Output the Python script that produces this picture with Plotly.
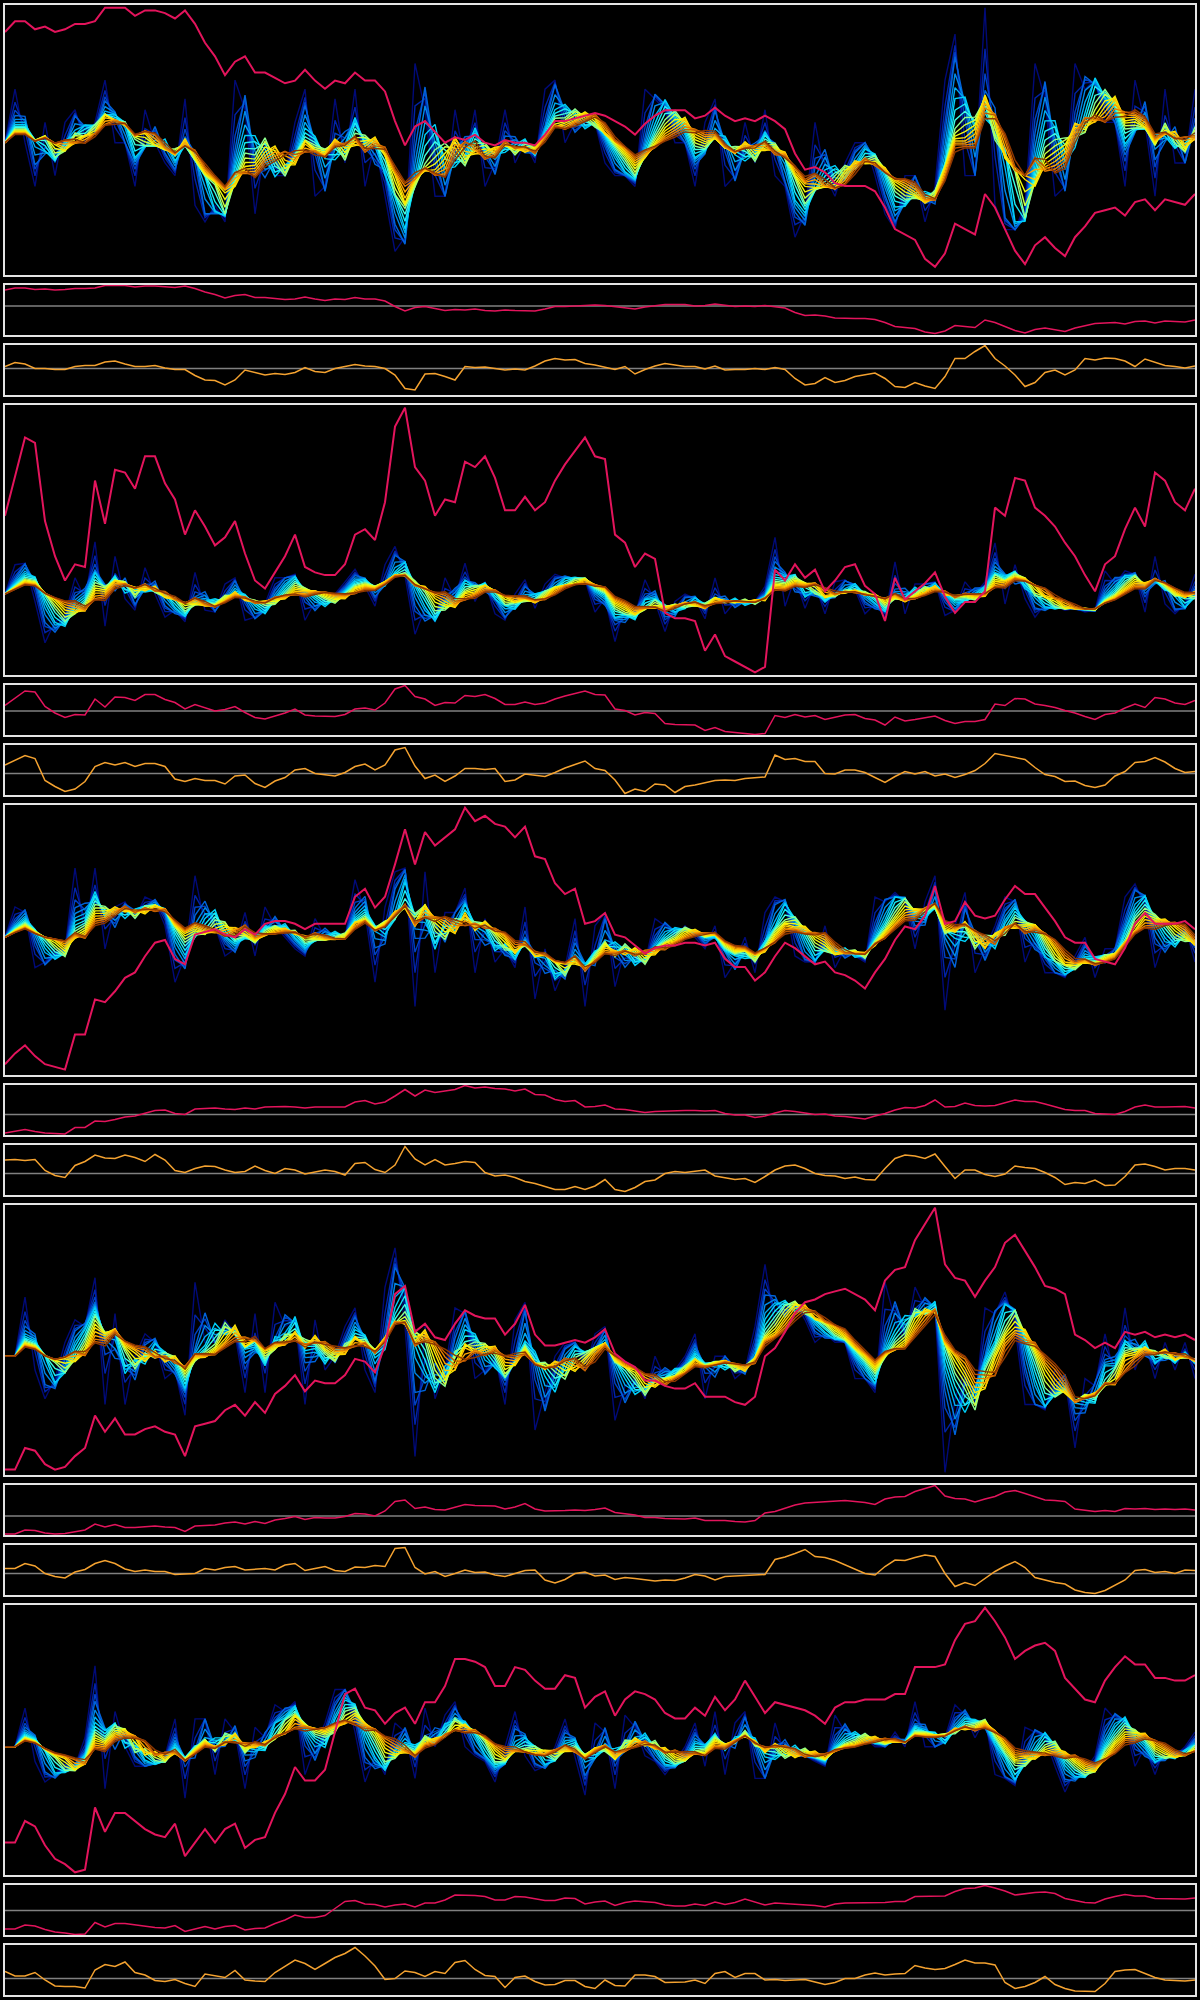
import numpy as np
import plotly.graph_objects as go
from plotly.colors import sample_colorscale

N = 120
t = list(range(N))

# ---- price-like series (crimson), normalized 0..100, one per group ----
price_1 = [90,94,94,91,92,90,91,93,93,94,
           99,99,99,96,98,98,97,95,98,93,
           86,81,74,79,81,75,75,73,71,72,
           76,72,69,72,71,75,72,72,68,57,
           48,55,57,53,49,51,50,52,49,48,
           50,49,49,48,52,57,57,58,59,60,
           59,57,55,52,56,59,61,61,61,58,
           59,62,59,57,58,57,59,57,54,45,
           39,40,38,34,33,33,33,31,25,17,
           15,13,6,3,8,19,17,15,30,25,
           17,9,4,11,14,10,7,14,18,23,
           24,25,22,27,28,24,28,27,26,30]
price_2 = [59,73,88,86,57,44,35,41,40,72,
           56,76,75,69,81,81,71,65,52,61,
           55,48,51,57,45,35,32,38,44,52,
           40,38,37,37,41,52,54,50,64,92,
           99,77,72,59,65,64,79,77,81,73,
           61,61,66,61,64,72,78,83,88,81,
           80,52,49,40,45,43,23,21,21,20,
           9,15,7,5,3,1,3,39,35,41,
           36,39,31,35,40,41,33,30,20,36,
           28,31,34,38,29,23,27,27,31,62,
           59,73,72,62,59,55,49,44,37,31,
           41,44,54,62,55,75,72,64,61,69]
price_3 = [4,8,11,7,4,3,2,15,15,28,
           27,31,36,38,44,49,50,43,41,52,
           53,54,52,51,54,52,56,57,57,56,
           54,56,56,56,56,66,69,62,66,78,
           91,78,90,85,88,91,99,94,96,93,
           92,88,92,81,80,71,67,69,56,57,
           60,52,51,48,45,47,48,48,49,49,
           48,49,43,40,40,35,38,44,49,47,
           44,41,42,38,37,35,32,38,43,50,
           55,54,59,70,56,57,64,59,58,59,
           65,70,67,67,62,57,51,49,49,43,
           42,41,47,56,60,56,56,56,57,54]
price_4 = [2,2,10,9,4,2,3,7,10,22,
           16,21,15,15,17,18,16,15,7,18,
           19,20,24,26,22,27,23,30,33,37,
           31,35,34,34,37,43,42,38,48,67,
           70,53,56,51,50,56,61,59,58,58,
           52,56,63,52,48,48,49,50,49,51,
           54,45,42,40,35,35,33,32,32,34,
           29,29,29,27,26,29,44,47,53,60,
           64,65,67,68,69,67,65,61,72,76,
           77,87,93,99,78,73,72,66,72,77,
           86,89,83,77,70,69,67,52,50,47,
           49,47,53,52,53,51,52,51,52,50]
price_5 = [12,12,20,18,11,6,4,1,2,25,
           16,23,23,20,17,15,14,19,7,12,
           17,12,17,19,10,13,14,23,30,40,
           35,35,39,53,67,69,62,61,56,60,
           62,56,64,64,70,80,80,79,77,70,
           70,77,76,72,69,69,74,73,62,66,
           68,59,65,68,67,65,60,58,58,62,
           59,66,61,65,72,66,60,64,63,62,
           61,59,56,62,64,64,65,65,65,67,
           67,77,77,77,78,87,93,94,99,94,
           88,80,83,85,86,83,73,69,65,64,
           72,77,81,78,78,73,73,72,72,74]

# ---- oscillator series (orange), normalized 0..100 ----
osc_1 = [57,65,62,53,53,51,51,57,59,59,
         66,68,62,57,57,59,54,51,51,39,
         30,29,20,30,50,45,40,43,41,45,
         55,47,45,53,57,61,58,57,53,40,
         13,10,42,43,37,30,57,55,56,53,
         50,52,50,58,68,73,70,71,63,60,
         55,51,57,42,51,58,63,60,57,57,
         52,58,50,51,51,53,51,55,51,33,
         20,23,35,25,29,37,40,44,33,17,
         15,25,18,13,37,73,73,87,99,73,
         58,40,17,25,45,50,40,50,73,70,
         74,73,68,57,72,65,59,57,54,58]
osc_2 = [60,70,79,73,29,17,7,12,27,57,
         65,60,65,57,63,63,57,32,27,33,
         29,29,22,38,40,23,15,28,35,50,
         53,43,40,38,45,57,62,50,60,90,
         95,58,33,40,27,38,53,53,51,53,
         27,30,42,39,37,45,54,61,68,53,
         49,30,3,12,7,22,20,5,17,20,
         25,29,30,29,33,35,36,80,71,73,
         67,67,43,42,50,50,45,35,25,37,
         47,42,47,38,42,35,41,49,63,83,
         79,75,71,55,41,37,27,28,19,15,
         20,38,47,65,67,75,66,53,45,47]
osc_3 = [70,71,69,71,49,39,35,59,67,80,
         74,73,80,75,67,81,70,49,45,53,
         58,57,50,45,47,58,49,43,53,50,
         42,46,50,47,40,63,65,51,45,60,
         97,72,60,71,60,63,67,65,45,38,
         40,35,27,23,17,11,11,17,11,18,
         31,11,7,15,27,30,43,47,45,47,
         50,38,35,31,33,25,37,50,58,60,
         53,43,39,38,33,36,31,30,53,73,
         80,78,73,82,57,33,50,50,41,37,
         42,58,55,53,45,35,21,25,23,30,
         19,20,37,60,62,57,50,53,53,50]
osc_4 = [53,53,63,58,43,37,34,46,51,63,
         69,63,52,47,50,47,47,41,42,43,
         53,50,55,57,50,52,53,50,60,63,
         49,53,57,49,47,56,55,59,57,93,
         95,55,42,47,37,43,50,45,46,40,
         37,43,49,50,30,24,31,43,46,38,
         40,31,35,33,30,28,30,29,34,41,
         38,30,37,38,39,39,41,71,76,83,
         91,77,75,69,60,51,43,40,57,70,
         69,75,80,77,43,17,25,19,33,47,
         58,67,55,35,30,25,22,10,5,3,
         9,20,30,49,51,45,47,43,50,49]
osc_5 = [47,38,38,45,30,18,17,17,14,50,
         61,57,66,45,40,29,27,31,23,17,
         42,38,35,49,30,28,27,45,58,70,
         63,51,63,75,83,95,78,58,31,33,
         48,45,37,47,43,65,69,51,39,37,
         15,35,38,27,20,21,29,29,17,13,
         30,19,18,40,40,37,25,26,26,30,
         23,43,47,35,43,43,30,31,29,30,
         31,26,21,25,33,33,40,44,40,42,
         43,59,54,51,53,61,70,64,64,60,
         25,13,17,25,37,21,13,8,8,7,
         23,47,50,51,43,35,30,29,28,30]

prices = [price_1, price_2, price_3, price_4, price_5]
oscs = [osc_1, osc_2, osc_3, osc_4, osc_5]
price_ref = [58, 48, 41, 38, 49]     # grey reference level, price panels
osc_ref = [53, 43, 43, 43, 33]       # grey reference level, oscillator panels

# ---- styling / layout parameters ----
band_center = [0.49, 0.30, 0.51, 0.44, 0.475]
spike_reach = [0.50, 0.21, 0.27, 0.43, 0.30]
N_LINES = 18
windows = np.linspace(1.0, 6.5, N_LINES)   # smoothing window (in samples) per rainbow line
COMPRESS = 0.7
rainbow_scale = [[0.0, '#000a78'], [0.07, '#0028b0'], [0.16, '#0058d8'],
                 [0.26, '#0098ec'], [0.36, '#00d4fa'], [0.46, '#30fff0'],
                 [0.55, '#a8ff70'], [0.63, '#f0ff10'], [0.72, '#ffe000'],
                 [0.82, '#ffa800'], [0.91, '#d86800'], [1.0, '#8c3600']]
line_colors = sample_colorscale(rainbow_scale, list(np.linspace(0, 1, N_LINES)))
CRIMSON = '#e3145c'
ORANGE = '#f4a230'
BORDER = '#e4e4e4'
W, H = 1200, 2000


def moving_avg(s, w):
    """trailing moving average with a (possibly fractional) window length w"""
    n = int(np.floor(w))
    frac = w - n
    out = np.zeros_like(s)
    for lag in range(n):
        out[lag:] += s[:len(s) - lag]
    if frac > 1e-9:
        out[n:] += frac * s[:len(s) - n]
    return out / w


fig = go.Figure()
layout = dict(width=W, height=H, margin=dict(l=0, r=0, t=0, b=0),
              paper_bgcolor='black', plot_bgcolor='black', showlegend=False)
shapes = []
xdom = [5 / W, 1195 / W]


def axis_style(**kw):
    d = dict(showline=True, mirror=True, linecolor=BORDER, linewidth=2,
             showticklabels=False, ticks='', showgrid=False, zeroline=False,
             fixedrange=True)
    d.update(kw)
    return d


def nm(prefix, i):
    return prefix if i == 1 else f'{prefix}{i}'


extra = 16
for g in range(5):
    top = 5 + 400 * g
    boxes = [(top, top + 270), (top + 280, top + 330), (top + 340, top + 390)]
    p = np.array(prices[g], dtype=float)
    o = np.array(oscs[g], dtype=float)
    r1 = np.diff(p, prepend=p[0])
    s = np.sign(r1) * np.abs(r1) ** COMPRESS       # compressed step changes
    fam = [moving_avg(s, w) for w in windows]
    M = np.max(np.abs(s))
    T = M / spike_reach[g]
    c = band_center[g]
    rng = [-c * T, (1 - c) * T]

    for k, (a, b) in enumerate(boxes):
        idx = 3 * g + k + 1
        xa, ya = nm('x', idx), nm('y', idx)
        layout[nm('xaxis', idx)] = axis_style(domain=xdom, range=[0, N - 1], anchor=ya)
        ydom = [1 - b / H, 1 - a / H]
        if k == 0:
            layout[nm('yaxis', idx)] = axis_style(domain=ydom, range=rng, anchor=xa)
            for j, line in enumerate(fam):
                fig.add_trace(go.Scatter(x=t, y=line, mode='lines', xaxis=xa, yaxis=ya,
                                         line=dict(color=line_colors[j], width=1.4),
                                         hoverinfo='skip'))
            oy = f'y{extra}'
            layout[f'yaxis{extra}'] = dict(overlaying=ya, range=[0, 100], visible=False,
                                           anchor=xa, fixedrange=True)
            fig.add_trace(go.Scatter(x=t, y=p, mode='lines', xaxis=xa, yaxis=oy,
                                     line=dict(color=CRIMSON, width=2), hoverinfo='skip'))
            extra += 1
        elif k == 1:
            layout[nm('yaxis', idx)] = axis_style(domain=ydom, range=[0, 100], anchor=xa)
            fig.add_trace(go.Scatter(x=t, y=p, mode='lines', xaxis=xa, yaxis=ya,
                                     line=dict(color=CRIMSON, width=1.5), hoverinfo='skip'))
            shapes.append(dict(type='line', xref=f'{xa} domain', yref=ya, x0=0, x1=1,
                               y0=price_ref[g], y1=price_ref[g], layer='below',
                               line=dict(color='#808080', width=1.5)))
        else:
            layout[nm('yaxis', idx)] = axis_style(domain=ydom, range=[0, 100], anchor=xa)
            fig.add_trace(go.Scatter(x=t, y=o, mode='lines', xaxis=xa, yaxis=ya,
                                     line=dict(color=ORANGE, width=1.5), hoverinfo='skip'))
            shapes.append(dict(type='line', xref=f'{xa} domain', yref=ya, x0=0, x1=1,
                               y0=osc_ref[g], y1=osc_ref[g], layer='below',
                               line=dict(color='#808080', width=1.5)))

layout['shapes'] = shapes
fig.update_layout(**layout)
fig.write_html('out.html', config={'displayModeBar': False},
               post_script="document.body.style.margin='0px';"
                           "document.body.style.overflow='hidden';")
